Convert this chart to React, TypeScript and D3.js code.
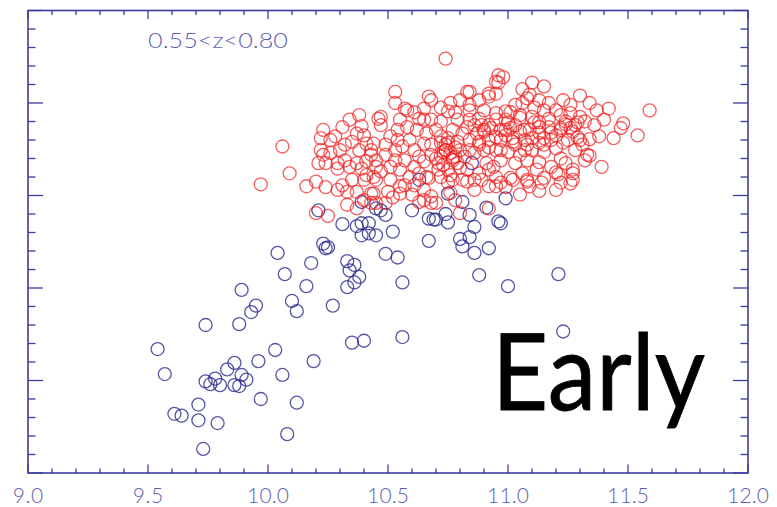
import React from "react";
import * as d3 from "d3";

// Stellar mass (log M*) and the vertical quantity for each galaxy.
const blueGalaxies: [number, number][] = [
  [10.04, 2.38], [10.18, 2.27], [10.07, 2.15], [10.16, 2.02], [9.89, 1.98], [10.10, 1.86],
  [10.12, 1.75], [9.95, 1.81], [9.93, 1.74], [9.74, 1.60], [9.88, 1.61], [9.54, 1.34],
  [10.03, 1.33], [10.19, 1.21], [9.96, 1.21], [9.57, 1.07], [9.86, 1.19], [9.83, 1.12],
  [9.89, 1.06], [9.91, 1.01], [9.74, 0.99], [9.78, 1.02], [9.76, 0.96], [9.80, 0.95],
  [9.86, 0.95], [9.88, 0.94], [10.06, 1.06], [9.97, 0.80], [10.12, 0.76], [9.71, 0.74],
  [9.61, 0.64], [9.64, 0.62], [9.71, 0.57], [9.79, 0.54], [10.08, 0.42], [9.73, 0.26],
  [10.21, 2.84], [10.31, 2.69], [10.37, 2.67], [10.39, 2.70], [10.42, 2.70], [10.39, 2.57],
  [10.42, 2.59], [10.45, 2.57], [10.47, 2.84], [10.49, 2.79], [10.39, 2.93], [10.52, 2.61],
  [10.60, 2.84], [10.67, 2.75], [10.69, 2.74], [10.70, 2.74], [10.74, 2.80], [10.75, 2.71],
  [10.67, 2.51], [10.75, 3.02], [10.81, 2.93], [10.84, 2.79], [10.86, 2.66], [10.80, 2.53],
  [10.84, 2.55], [10.81, 2.45], [10.86, 2.38], [10.92, 2.43], [10.91, 2.87], [10.99, 2.97],
  [10.96, 2.72], [10.97, 2.70], [10.23, 2.48], [10.24, 2.43], [10.25, 2.44], [10.33, 2.29],
  [10.36, 2.25], [10.34, 2.19], [10.38, 2.12], [10.36, 2.06], [10.33, 2.01], [10.49, 2.37],
  [10.54, 2.33], [10.56, 2.06], [10.27, 1.81], [10.88, 2.14], [11.00, 2.02], [11.21, 2.15],
  [10.35, 1.41], [10.40, 1.43], [10.56, 1.47], [11.23, 1.53], [10.63, 3.17], [10.85, 3.35],
  [10.45, 2.86],
];

const redGalaxies: [number, number][] = [
  [10.74, 4.48], [9.97, 3.12], [10.09, 3.24], [10.06, 3.53], [11.59, 3.92], [11.54, 3.65],
  [11.48, 3.78], [11.47, 3.73], [11.44, 3.62], [11.39, 3.31], [11.34, 3.43], [11.26, 3.13],
  [11.13, 3.05], [11.09, 3.10], [10.99, 3.09], [11.42, 3.94], [11.30, 4.08], [11.15, 4.18],
  [11.10, 4.22], [10.98, 4.28], [10.96, 4.22], [11.06, 4.15], [11.34, 4.00], [11.37, 3.92],
  [11.40, 3.82], [11.34, 3.61], [11.38, 3.64], [11.29, 3.63], [11.28, 3.49], [11.22, 3.40],
  [11.27, 3.24], [11.21, 3.23], [11.18, 3.31], [11.12, 3.28], [11.06, 3.24], [11.08, 3.15],
  [11.01, 3.19], [10.95, 3.20], [10.92, 3.28], [11.23, 4.03], [11.26, 3.98], [11.17, 4.00],
  [11.15, 3.92], [11.20, 3.92], [11.26, 3.89], [11.30, 3.85], [11.32, 3.80], [11.28, 3.76],
  [11.24, 3.80], [11.22, 3.87], [11.17, 3.83], [11.10, 3.85], [11.08, 4.05], [11.09, 4.09],
  [11.06, 4.00], [11.05, 3.87], [10.99, 3.91], [10.95, 3.89], [10.92, 4.07], [10.95, 4.10],
  [10.92, 3.76], [10.97, 3.71], [11.01, 3.73], [11.05, 3.69], [11.09, 3.71], [11.13, 3.74],
  [11.18, 3.68], [11.22, 3.71], [11.26, 3.73], [10.97, 3.60], [11.02, 3.58], [11.07, 3.60],
  [11.13, 3.57], [11.18, 3.60], [11.23, 3.57], [10.95, 3.49], [11.00, 3.47], [11.05, 3.44],
  [11.10, 3.49], [11.15, 3.47], [11.20, 3.51], [10.97, 3.38], [11.03, 3.35], [11.08, 3.38],
  [11.13, 3.36], [11.24, 3.35], [11.15, 3.19],
  [10.53, 4.12], [10.53, 4.00], [10.67, 4.07], [10.68, 4.03], [10.57, 3.94], [10.58, 3.92],
  [10.47, 3.85], [10.47, 3.76], [10.65, 3.94], [10.76, 4.00], [10.75, 3.91], [10.83, 4.12],
  [10.84, 4.12], [10.92, 4.10], [10.95, 4.23], [10.96, 4.30], [10.84, 3.92], [10.88, 3.83],
  [10.79, 3.82], [10.72, 3.80], [10.68, 3.82], [10.63, 3.83], [10.58, 3.74], [10.54, 3.71],
  [10.51, 3.64], [10.44, 3.56], [10.43, 3.49], [10.49, 3.44], [10.45, 3.38], [10.54, 3.60],
  [10.56, 3.53], [10.61, 3.49], [10.59, 3.60], [10.65, 3.56], [10.63, 3.42], [10.65, 3.37],
  [10.61, 3.31], [10.63, 3.24], [10.66, 3.20], [10.59, 3.20], [10.55, 3.28], [10.51, 3.31],
  [10.47, 3.26], [10.45, 3.17], [10.51, 3.17], [10.55, 3.10], [10.50, 3.04], [10.44, 3.02],
  [10.45, 2.92], [10.65, 3.06], [10.68, 2.99], [10.65, 2.95], [10.70, 2.92], [10.74, 3.49],
  [10.72, 3.42], [10.71, 3.35], [10.76, 3.46], [10.74, 3.55], [10.78, 3.42], [10.80, 3.49],
  [10.79, 3.35], [10.75, 3.28], [10.72, 3.20], [10.77, 3.17], [10.81, 3.17], [10.83, 3.28],
  [10.86, 3.46], [10.84, 3.60], [10.87, 3.67], [10.90, 3.71], [10.92, 3.60], [10.90, 3.49],
  [10.91, 3.35], [10.88, 3.24], [10.94, 3.31], [10.86, 3.17], [10.92, 3.10], [10.95, 3.10],
  [10.70, 3.71], [10.77, 3.71], [10.81, 3.67], [10.72, 3.64], [10.66, 3.67], [10.62, 3.71],
  [10.79, 3.58], [10.83, 3.74], [10.80, 2.81], [10.92, 2.86],
  [10.23, 3.71], [10.31, 3.74], [10.28, 3.64], [10.22, 3.62], [10.39, 3.75], [10.37, 3.67],
  [10.46, 3.83], [10.41, 3.56], [10.22, 3.49], [10.26, 3.46], [10.23, 3.44], [10.21, 3.35],
  [10.24, 3.35], [10.29, 3.35], [10.32, 3.38], [10.29, 3.29], [10.34, 3.31], [10.37, 3.35],
  [10.39, 3.29], [10.41, 3.37], [10.43, 3.44], [10.20, 3.15], [10.24, 3.09], [10.16, 3.10],
  [10.29, 3.06], [10.31, 3.11], [10.35, 3.17], [10.40, 3.17], [10.41, 3.22], [10.44, 3.20],
  [10.45, 3.31], [10.33, 3.04], [10.37, 3.04], [10.43, 3.02], [10.33, 2.90], [10.37, 2.86],
  [10.20, 2.81], [10.25, 2.78], [10.40, 2.95], [10.43, 2.92], [10.49, 2.92], [10.52, 2.98],
  [10.55, 3.02], [10.68, 2.92], [10.63, 2.93], [10.76, 3.03],
  [10.73, 3.47], [10.77, 3.38], [10.75, 3.57], [10.70, 3.40], [10.82, 3.42], [10.88, 3.55],
  [10.99, 3.82], [11.03, 3.76], [11.11, 3.79], [11.15, 3.62], [11.07, 3.49], [10.99, 3.65],
  [10.89, 3.76], [10.84, 3.82], [10.68, 3.55], [10.53, 3.38], [10.57, 3.11], [10.60, 3.01],
  [10.38, 3.49], [10.32, 3.55], [10.80, 4.03], [10.88, 4.03], [11.03, 3.98], [11.30, 3.60],
  [11.32, 3.38], [11.20, 3.06], [11.05, 3.01], [10.86, 3.06], [10.78, 2.95], [11.13, 4.03],
  [10.72, 3.57], [10.74, 3.49], [10.77, 3.41], [10.73, 3.33], [10.78, 3.52], [10.71, 3.28],
  [10.76, 3.22], [10.80, 3.30], [10.68, 3.44], [10.75, 3.62], [10.86, 3.76], [10.90, 3.69],
  [10.93, 3.73], [10.95, 3.63], [10.99, 3.71], [11.02, 3.62], [10.88, 3.58], [10.92, 3.52],
  [10.97, 3.49], [11.03, 3.55], [10.84, 3.49], [10.95, 3.82], [11.00, 3.79], [11.05, 3.84],
  [11.07, 3.71], [11.10, 3.62], [11.13, 3.68], [11.17, 3.74], [11.20, 3.65], [11.08, 3.55],
  [11.15, 3.55], [11.22, 3.73], [11.13, 3.79], [11.24, 3.77], [11.27, 3.69], [11.29, 3.79],
  [11.25, 3.60], [11.31, 3.55], [10.84, 3.98], [10.90, 3.92], [11.01, 3.90], [11.11, 3.95],
  [10.78, 3.90], [10.72, 3.95], [10.65, 3.82], [10.61, 3.90], [10.55, 3.82], [11.33, 3.44],
  [11.36, 3.76], [11.27, 3.17], [11.27, 3.28], [11.20, 3.25], [11.22, 3.14], [11.14, 3.14],
  [11.08, 3.17], [11.02, 3.17], [10.97, 3.14], [10.89, 3.17], [10.83, 3.15], [10.75, 3.14],
  [10.67, 3.19], [10.57, 3.38], [10.61, 3.11], [10.53, 3.49], [10.49, 3.55], [10.40, 3.65],
  [10.35, 3.58], [10.30, 3.49], [10.26, 3.60], [10.38, 3.87], [10.34, 3.82],
];

const xTickLabels = ["9.0", "9.5", "10.0", "10.5", "11.0", "11.5", "12.0"];
const redshiftLabel = "0.55<z<0.80";
const panelLabel = "Early";

const W = 777;
const H = 507;
const plot = { left: 28, right: 748, top: 10.5, bottom: 473 };

const AXIS = "#3c3ca0";
const LABEL = "#5f5fb0";

export default function App() {
  const x = d3.scaleLinear().domain([9, 12]).range([plot.left, plot.right]);
  const y = d3.scaleLinear().domain([0, 5]).range([plot.bottom, plot.top]);

  const xMinor = d3.range(0, 31).map((i) => 9 + i * 0.1);
  const yMinor = d3.range(0, 26).map((i) => i * 0.2);
  const isMajorX = (v: number) => Math.abs(v * 2 - Math.round(v * 2)) < 1e-6;
  const isMajorY = (v: number) => Math.abs(v - Math.round(v)) < 1e-6;

  return (
    <svg
      width={W}
      height={H}
      style={{ position: "absolute", left: 0, top: 0, background: "#fff" }}
      fontFamily="Lato, 'DejaVu Sans', sans-serif"
    >
      {/* data points */}
      <g fill="none" strokeWidth={1.3}>
        {blueGalaxies.map(([m, v], i) => (
          <circle key={"b" + i} cx={x(m)} cy={y(v)} r={6.5} stroke="#2a2a8e" strokeOpacity={0.8} />
        ))}
        {redGalaxies.map(([m, v], i) => (
          <circle key={"r" + i} cx={x(m)} cy={y(v)} r={6.5} stroke="#f01c1c" strokeOpacity={0.7} />
        ))}
      </g>

      {/* frame */}
      <rect
        x={plot.left}
        y={plot.top}
        width={plot.right - plot.left}
        height={plot.bottom - plot.top}
        fill="none"
        stroke={AXIS}
        strokeWidth={1.6}
      />

      {/* ticks on all four sides */}
      <g stroke={AXIS} strokeWidth={1.3}>
        {xMinor.map((v, i) => {
          const len = isMajorX(v) ? 8.5 : 4.5;
          return (
            <g key={"xt" + i}>
              <line x1={x(v)} x2={x(v)} y1={plot.bottom} y2={plot.bottom - len} />
              <line x1={x(v)} x2={x(v)} y1={plot.top} y2={plot.top + len} />
            </g>
          );
        })}
        {yMinor.map((v, i) => {
          const len = isMajorY(v) ? 15 : 7.5;
          return (
            <g key={"yt" + i}>
              <line x1={plot.left} x2={plot.left + len} y1={y(v)} y2={y(v)} />
              <line x1={plot.right} x2={plot.right - len} y1={y(v)} y2={y(v)} />
            </g>
          );
        })}
      </g>

      {/* x tick labels */}
      <g fill={LABEL} fontSize={21} fontWeight={300} textAnchor="middle">
        {xTickLabels.map((t) => (
          <text key={t} x={x(+t)} y={503} textLength={t.length * 11.2 - 3} lengthAdjust="spacing">
            {t}
          </text>
        ))}
      </g>

      <text x={148} y={48} fill={LABEL} fontSize={21} fontWeight={300} textLength={140} lengthAdjust="spacingAndGlyphs">
        {redshiftLabel}
      </text>

      <text
        x={492}
        y={410}
        fill="#000"
        stroke="#000"
        strokeWidth={0.8}
        fontSize={106}
        textLength={213}
        lengthAdjust="spacingAndGlyphs"
      >
        {panelLabel}
      </text>
    </svg>
  );
}
